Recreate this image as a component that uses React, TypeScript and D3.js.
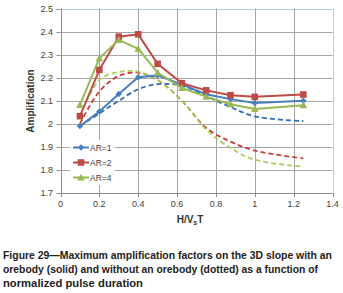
import React from "react";
import * as d3 from "d3";

const xValues = [0.1, 0.2, 0.3, 0.4, 0.5, 0.625, 0.75, 0.875, 1.0, 1.25];
const ar1Solid = [1.99, 2.053, 2.129, 2.202, 2.21, 2.17, 2.128, 2.107, 2.09, 2.1];
const ar2Solid = [2.033, 2.234, 2.378, 2.388, 2.26, 2.176, 2.145, 2.124, 2.117, 2.127];
const ar4Solid = [2.082, 2.284, 2.364, 2.325, 2.222, 2.155, 2.118, 2.085, 2.064, 2.081];
const ar1Dotted = [1.99, 2.045, 2.1, 2.15, 2.172, 2.165, 2.12, 2.073, 2.032, 2.012];
const ar2Dotted = [2.0, 2.14, 2.208, 2.222, 2.19, 2.1, 1.982, 1.923, 1.884, 1.85];
const ar4Dotted = [2.03, 2.19, 2.225, 2.226, 2.19, 2.1, 1.975, 1.895, 1.844, 1.814];
const xTicks = [0, 0.2, 0.4, 0.6, 0.8, 1, 1.2, 1.4];
const yTicks = [1.7, 1.8, 1.9, 2.0, 2.1, 2.2, 2.3, 2.4, 2.5];
const seriesNames = ["AR=1", "AR=2", "AR=4"];
const captionLines = [
  "Figure 29\u2014Maximum amplification factors on the 3D slope with an",
  "orebody (solid) and without an orebody (dotted) as a function of",
  "normalized pulse duration",
];

const colors = ["#4A7EBB", "#BE4B48", "#98B954"];
const dashColors = ["#2F6DB5", "#C8403C", "#A9CF5E"];

export default function App() {
  const left = 60.5, right = 332.5, top = 8.5, bottom = 193;
  const x = d3.scaleLinear().domain([0, 1.4]).range([left, right]);
  const y = d3.scaleLinear().domain([1.7, 2.5]).range([bottom, top]);
  const solid = [ar1Solid, ar2Solid, ar4Solid];
  const dotted = [ar1Dotted, ar2Dotted, ar4Dotted];
  const lineStraight = d3
    .line<number>()
    .x((_, i) => x(xValues[i]))
    .y((d) => y(d));
  const lineSmooth = d3
    .line<number>()
    .x((_, i) => x(xValues[i]))
    .y((d) => y(d))
    .curve(d3.curveCatmullRom.alpha(0.5));
  const chartFont = "'Liberation Sans', Arial, sans-serif";

  const marker = (k: number, cx: number, cy: number, key: string) => {
    const c = colors[k];
    if (k === 0) {
      const s = 3.2;
      return (
        <path key={key} d={`M${cx},${cy - s}L${cx + s},${cy}L${cx},${cy + s}L${cx - s},${cy}Z`} fill={c} />
      );
    }
    if (k === 1) {
      const s = 3.3;
      return <rect key={key} x={cx - s} y={cy - s} width={2 * s} height={2 * s} fill={c} />;
    }
    const s = 3.8;
    return (
      <path key={key} d={`M${cx},${cy - s}L${cx + s},${cy + s * 0.8}L${cx - s},${cy + s * 0.8}Z`} fill={c} />
    );
  };

  return (
    <svg
      width={343}
      height={293}
      style={{ position: "absolute", left: 0, top: 0, background: "#fff" }}
    >
      {/* grid */}
      {yTicks.map((t) => (
        <line key={"gy" + t} x1={left} x2={right} y1={Math.round(y(t)) + 0.5} y2={Math.round(y(t)) + 0.5}
          stroke={t === 2.5 ? "#B9CDE5" : "#A6A6A6"} strokeWidth={1} />
      ))}
      {xTicks.map((t) => (
        <line key={"gx" + t} x1={Math.round(x(t)) + 0.5} x2={Math.round(x(t)) + 0.5} y1={top} y2={bottom}
          stroke={t === 1.4 ? "#B9CDE5" : t === 0 ? "#8C8C8C" : "#A6A6A6"} strokeWidth={1} />
      ))}
      {/* ticks */}
      {yTicks.map((t) => (
        <line key={"ty" + t} x1={left - 4} x2={left} y1={Math.round(y(t)) + 0.5} y2={Math.round(y(t)) + 0.5} stroke="#8C8C8C" />
      ))}
      {xTicks.map((t) => (
        <line key={"tx" + t} x1={Math.round(x(t)) + 0.5} x2={Math.round(x(t)) + 0.5} y1={bottom} y2={bottom + 4} stroke="#8C8C8C" />
      ))}
      <line x1={left} x2={right} y1={Math.round(bottom) + 0.5} y2={Math.round(bottom) + 0.5} stroke="#8C8C8C" />

      {/* tick labels */}
      {yTicks.map((t) => (
        <text key={"ly" + t} x={53} y={y(t) + 3.2} textAnchor="end" fontSize={9} fontFamily={chartFont} fill="#404040">
          {d3.format("")(+t.toFixed(1))}
        </text>
      ))}
      {xTicks.map((t) => (
        <text key={"lx" + t} x={x(t)} y={207} textAnchor="middle" fontSize={9} fontFamily={chartFont} fill="#404040">
          {d3.format("")(+t.toFixed(1))}
        </text>
      ))}

      {/* dotted series */}
      {dotted.map((s, k) => (
        <path key={"d" + k} d={lineSmooth(s) || ""} fill="none" stroke={dashColors[k]} strokeWidth={1.8} strokeDasharray="5,3" />
      ))}
      {/* solid series */}
      {solid.map((s, k) => (
        <g key={"s" + k}>
          <path d={lineStraight(s) || ""} fill="none" stroke={colors[k]} strokeWidth={2} />
          {s.map((v, i) => marker(k, x(xValues[i]), y(v), `m${k}-${i}`))}
        </g>
      ))}

      {/* legend */}
      <rect x={70} y={140} width={45} height={45} fill="#fff" />
      {seriesNames.map((n, k) => {
        const ly = 147.5 + k * 15;
        return (
          <g key={"lg" + k}>
            <line x1={73} x2={89} y1={ly} y2={ly} stroke={colors[k]} strokeWidth={2} />
            {marker(k, 81, ly, "lm" + k)}
            <text x={90} y={ly + 3.2} fontSize={8.5} fontFamily={chartFont} fill="#404040">{n}</text>
          </g>
        );
      })}

      {/* axis titles */}
      <text transform="translate(34,101) rotate(-90)" textAnchor="middle" fontSize={10} fontWeight="bold" fontFamily={chartFont} fill="#333">
        Amplification
      </text>
      <text x={190} y={222.5} textAnchor="middle" fontSize={10} fontWeight="bold" fontFamily={chartFont} fill="#333">
        H/V<tspan fontSize={7} dy={2}>s</tspan><tspan dy={-2}>T</tspan>
      </text>

      {/* caption */}
      {captionLines.map((l, i) => (
        <text key={"c" + i} x={3} y={258.5 + i * 14} fontSize={10.5} fontWeight="bold" fontFamily="'Liberation Sans', Arial, sans-serif" fill="#222"
          textLength={[329, 315, 140][i]} lengthAdjust="spacingAndGlyphs">
          {l}
        </text>
      ))}
    </svg>
  );
}
